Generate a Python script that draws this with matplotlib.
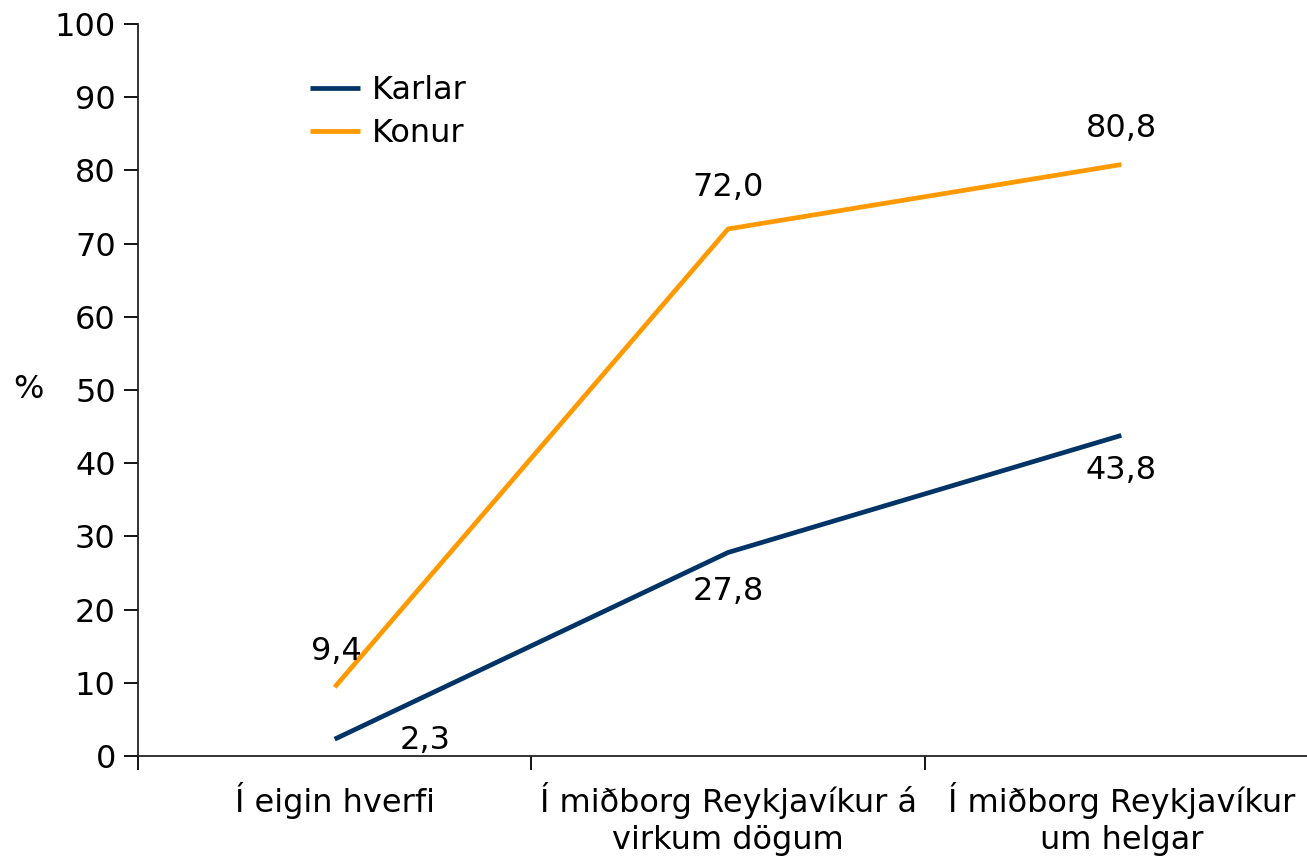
import matplotlib
matplotlib.use("Agg")
import matplotlib.pyplot as plt

categories = ["Í eigin hverfi", "Í miðborg Reykjavíkur á\nvirkum dögum", "Í miðborg Reykjavíkur\num helgar"]
karlar = [2.3, 27.8, 43.8]
konur = [9.4, 72.0, 80.8]
karlar_labels = ["2,3", "27,8", "43,8"]
konur_labels = ["9,4", "72,0", "80,8"]
yticks = list(range(0, 101, 10))

W, H = 1307, 857
fig = plt.figure(figsize=(W / 100, H / 100), dpi=100)
ax = fig.add_axes([138 / W, 1 - 756 / H, 1180 / W, 732 / H])

fs = 23
plt.rcParams['font.family'] = ['DejaVu Sans']

x = list(range(len(categories)))
ax.plot(x, karlar, color="#003366", lw=3.4, label="Karlar", solid_capstyle="butt")
ax.plot(x, konur, color="#FF9900", lw=3.4, label="Konur", solid_capstyle="butt")

ax.set_xlim(-0.5, 2.5)
ax.set_ylim(0, 100)
ax.set_yticks(yticks)
ax.set_yticklabels([str(v) for v in yticks], fontsize=fs)
ax.set_xticks([-0.5, 0.5, 1.5])
ax.set_xticklabels([])
ax.set_xticks(x, minor=True)
ax.set_xticklabels(categories, minor=True, fontsize=fs, linespacing=1.25)
ax.tick_params(axis="x", which="minor", length=0, pad=19)
ax.tick_params(axis="x", which="major", length=10, width=1.3, direction="out")
ax.tick_params(axis="y", length=10, width=1.3, direction="out", pad=6)

for s in ["top", "right"]:
    ax.spines[s].set_visible(False)
for s in ["left", "bottom"]:
    ax.spines[s].set_linewidth(1.3)
    ax.spines[s].set_color("#222222")

# data labels
k_off = [(65, -1), (0, -28), (0, -25)]
for xi, v, lab, off in zip(x, karlar, karlar_labels, k_off):
    ax.annotate(lab, (xi, v), xytext=off, textcoords="offset points",
                ha="center", va="center", fontsize=fs)
c_off = [(1, 26), (0, 30), (0, 26)]
for xi, v, lab, off in zip(x, konur, konur_labels, c_off):
    ax.annotate(lab, (xi, v), xytext=off, textcoords="offset points",
                ha="center", va="center", fontsize=fs)

fig.text(28 / W, 1 - 390 / H, "%", fontsize=fs, ha="center", va="center")

leg = ax.legend(loc="upper left", bbox_to_anchor=(310 / W, 1 - 75 / H),
                bbox_transform=fig.transFigure, frameon=False, fontsize=fs,
                handlelength=1.56, handletextpad=0.37, labelspacing=0.39,
                borderaxespad=0, borderpad=0)

fig.savefig("out.png", dpi=100)
